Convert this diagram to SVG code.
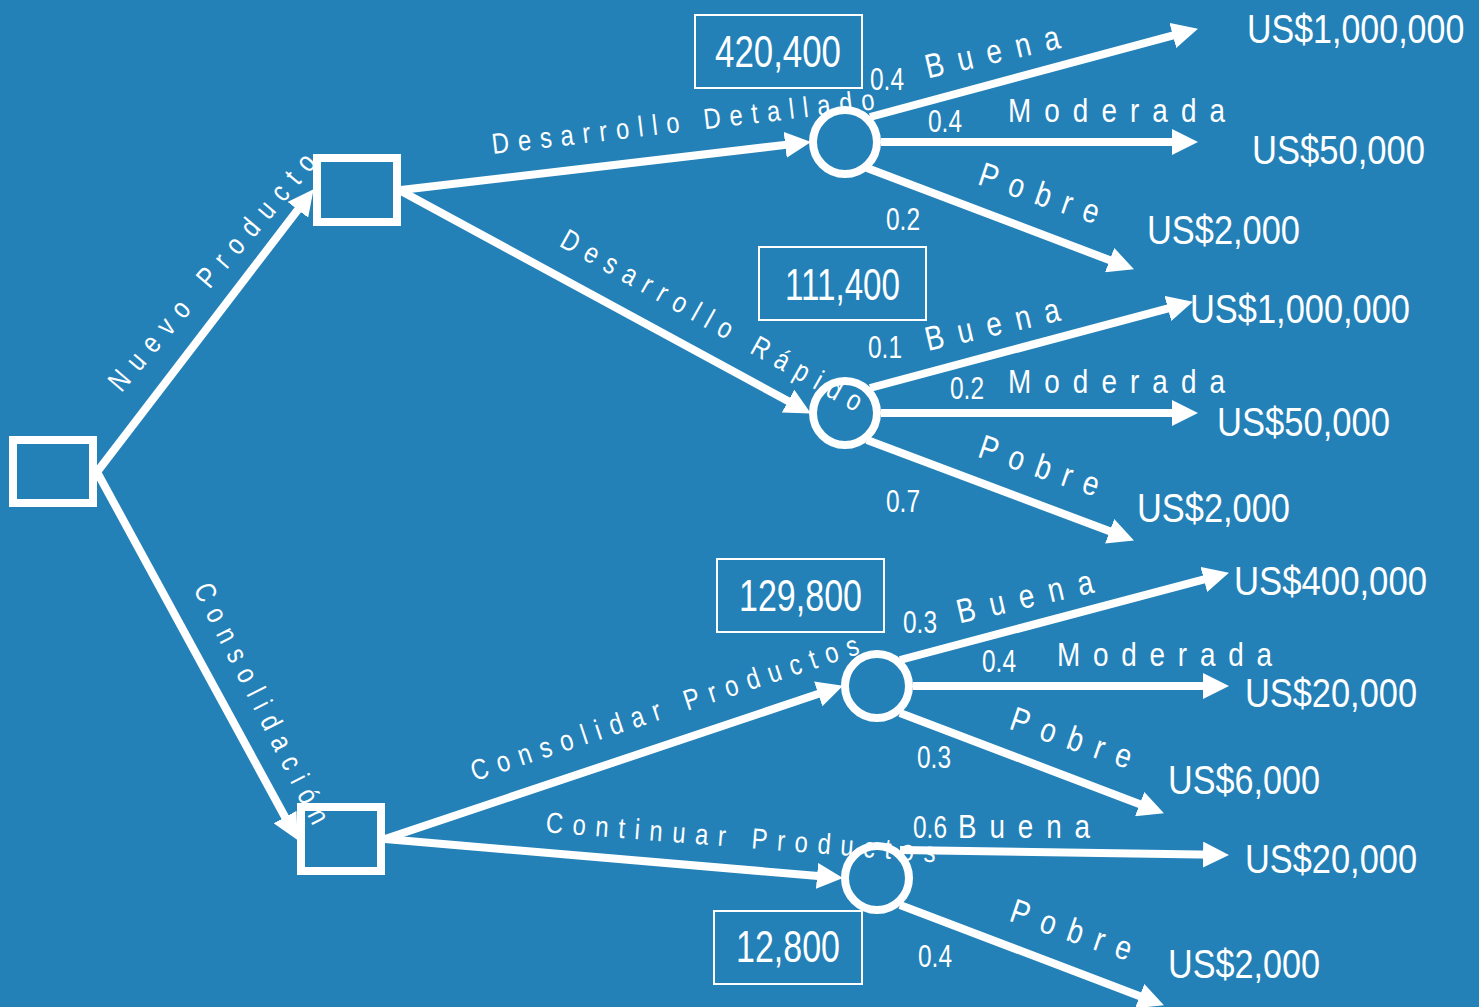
<svg xmlns="http://www.w3.org/2000/svg" width="1479" height="1007" viewBox="0 0 1479 1007">
  <defs>
    <marker id="arrow" markerUnits="userSpaceOnUse" markerWidth="26" markerHeight="26" viewBox="0 0 24 24" refX="12" refY="12" orient="auto">
      <path d="M0,0 L24,12 L0,24 Z" fill="#fff"/>
    </marker>
    <style>
      .edge { stroke: #fff; stroke-width: 8; fill: none; marker-end: url(#arrow); }
      .dec, .chance { fill: #2381B8; stroke: #fff; stroke-width: 8; }
      .ev { fill: none; stroke: #fff; stroke-width: 2; }
      text { fill: #fff; font-family: "Liberation Sans Narrow", "Liberation Sans", Arial, sans-serif; }
      .branch { font-size: 29px; }
      .state { font-size: 34px; }
      .prob { font-size: 31px; }
      .pay { font-size: 40px; }
      .evt { font-size: 44px; text-anchor: middle; }
    </style>
  </defs>

  <rect width="1479" height="1007" fill="#2381B8"/>

  <!-- branches of the tree -->
  <g id="connectors">
    <line class="edge" x1="97" y1="472" x2="305.7" y2="199.5"/>
    <line class="edge" x1="97" y1="472" x2="291.3" y2="828.5"/>
    <line class="edge" x1="401" y1="190" x2="798.1" y2="143.4"/>
    <line class="edge" x1="401" y1="191" x2="799.5" y2="407.3"/>
    <line class="edge" x1="870" y1="117" x2="1185.4" y2="32.1"/>
    <line class="edge" x1="881" y1="142" x2="1185" y2="142"/>
    <line class="edge" x1="867" y1="168" x2="1121.8" y2="264.7"/>
    <line class="edge" x1="870" y1="388" x2="1180.4" y2="305.1"/>
    <line class="edge" x1="881" y1="413" x2="1185" y2="413"/>
    <line class="edge" x1="867" y1="440" x2="1121.8" y2="535.8"/>
    <line class="edge" x1="385" y1="839" x2="830.6" y2="689.8"/>
    <line class="edge" x1="385" y1="839" x2="830" y2="877"/>
    <line class="edge" x1="900" y1="660" x2="1216.4" y2="576.1"/>
    <line class="edge" x1="913" y1="686" x2="1216" y2="686"/>
    <line class="edge" x1="900" y1="713" x2="1151.8" y2="808.7"/>
    <line class="edge" x1="900" y1="850" x2="1216" y2="854.8"/>
    <line class="edge" x1="900" y1="905" x2="1151.8" y2="1000.7"/>
  </g>

  <!-- decision nodes -->
  <g id="decision-root"><rect class="dec" x="13" y="440" width="80" height="63"/></g>
  <g id="decision-nuevo"><rect class="dec" x="317" y="158" width="80" height="64"/></g>
  <g id="decision-consolidacion"><rect class="dec" x="301" y="807" width="80" height="64"/></g>

  <!-- chance nodes -->
  <g id="chance-detallado"><circle class="chance" cx="845" cy="142" r="32"/></g>
  <g id="chance-rapido"><circle class="chance" cx="845" cy="413" r="32"/></g>
  <g id="chance-consolidar"><circle class="chance" cx="877" cy="686" r="32"/></g>
  <g id="chance-continuar"><circle class="chance" cx="877" cy="878" r="32"/></g>

  <!-- expected values -->
  <g id="ev-detallado">
    <rect class="ev" x="695" y="15" width="167" height="73"/>
    <text class="evt" x="778" y="67" textLength="126" lengthAdjust="spacingAndGlyphs">420,400</text>
  </g>
  <g id="ev-rapido">
    <rect class="ev" x="759" y="247" width="167" height="73"/>
    <text class="evt" x="842.5" y="300" textLength="115" lengthAdjust="spacingAndGlyphs">111,400</text>
  </g>
  <g id="ev-consolidar">
    <rect class="ev" x="717" y="559" width="167" height="73"/>
    <text class="evt" x="800.5" y="611" textLength="123" lengthAdjust="spacingAndGlyphs">129,800</text>
  </g>
  <g id="ev-continuar">
    <rect class="ev" x="714" y="911" width="148" height="73"/>
    <text class="evt" x="788" y="962" textLength="104" lengthAdjust="spacingAndGlyphs">12,800</text>
  </g>

  <!-- decision branch labels (spaced, narrow glyphs) -->
  <g id="branch-labels" class="branch">
    <text transform="translate(121.2,393.3) rotate(-49.5)" letter-spacing="12.34" textLength="312.1" lengthAdjust="spacingAndGlyphs">Nuevo Producto</text>
    <text transform="translate(193,589) rotate(63.2)" letter-spacing="11.86" textLength="275.7" lengthAdjust="spacingAndGlyphs">Consolidación</text>
    <text transform="translate(493,154) rotate(-6.7)" letter-spacing="10.88" textLength="393.9" lengthAdjust="spacingAndGlyphs">Desarrollo Detallado</text>
    <text transform="translate(558.2,245.4) rotate(29.3)" letter-spacing="11.49" textLength="350.4" lengthAdjust="spacingAndGlyphs">Desarrollo Rápido</text>
    <text transform="translate(474.4,781.3) rotate(-18.3)" letter-spacing="11.53" textLength="416.5" lengthAdjust="spacingAndGlyphs">Consolidar Productos</text>
    <text transform="translate(545.2,832.2) rotate(4.45)" letter-spacing="11.81" textLength="400.7" lengthAdjust="spacingAndGlyphs">Continuar Productos</text>
  </g>

  <!-- market outcome labels -->
  <g id="state-labels" class="state">
    <text transform="translate(928.1,78.6) rotate(-13)" letter-spacing="17.2" textLength="151.1" lengthAdjust="spacingAndGlyphs">Buena</text>
    <text x="1008" y="122" letter-spacing="15.93" textLength="230.1" lengthAdjust="spacingAndGlyphs">Moderada</text>
    <text transform="translate(976.5,184.1) rotate(18.7)" letter-spacing="15.4" textLength="137.6" lengthAdjust="spacingAndGlyphs">Pobre</text>
    <text transform="translate(928.1,351.1) rotate(-13)" letter-spacing="17.2" textLength="151.1" lengthAdjust="spacingAndGlyphs">Buena</text>
    <text x="1008" y="393" letter-spacing="15.93" textLength="230.1" lengthAdjust="spacingAndGlyphs">Moderada</text>
    <text transform="translate(976.5,456.6) rotate(18.7)" letter-spacing="15.4" textLength="137.6" lengthAdjust="spacingAndGlyphs">Pobre</text>
    <text transform="translate(959.6,623.6) rotate(-13)" letter-spacing="17.8" textLength="153.6" lengthAdjust="spacingAndGlyphs">Buena</text>
    <text x="1057" y="666" letter-spacing="15.59" textLength="227.8" lengthAdjust="spacingAndGlyphs">Moderada</text>
    <text transform="translate(1008,728.6) rotate(18.7)" letter-spacing="15.75" textLength="138.9" lengthAdjust="spacingAndGlyphs">Pobre</text>
    <text x="958" y="838" letter-spacing="15.7" textLength="144.9" lengthAdjust="spacingAndGlyphs">Buena</text>
    <text transform="translate(1008,920.6) rotate(18.7)" letter-spacing="15.75" textLength="138.9" lengthAdjust="spacingAndGlyphs">Pobre</text>
  </g>

  <!-- probabilities -->
  <g id="probabilities" class="prob">
    <text x="870" y="90" textLength="34" lengthAdjust="spacingAndGlyphs">0.4</text>
    <text x="928" y="132" textLength="34" lengthAdjust="spacingAndGlyphs">0.4</text>
    <text x="886" y="230" textLength="34" lengthAdjust="spacingAndGlyphs">0.2</text>
    <text x="868" y="358" textLength="34" lengthAdjust="spacingAndGlyphs">0.1</text>
    <text x="950" y="399" textLength="34" lengthAdjust="spacingAndGlyphs">0.2</text>
    <text x="886" y="512" textLength="34" lengthAdjust="spacingAndGlyphs">0.7</text>
    <text x="903" y="633" textLength="34" lengthAdjust="spacingAndGlyphs">0.3</text>
    <text x="982" y="672" textLength="34" lengthAdjust="spacingAndGlyphs">0.4</text>
    <text x="917" y="768" textLength="34" lengthAdjust="spacingAndGlyphs">0.3</text>
    <text x="913" y="838" textLength="34" lengthAdjust="spacingAndGlyphs">0.6</text>
    <text x="918" y="967" textLength="34" lengthAdjust="spacingAndGlyphs">0.4</text>
  </g>

  <!-- payoffs -->
  <g id="payoffs" class="pay">
    <text transform="translate(1247,43) scale(0.85,1)">US$1,000,000</text>
    <text x="1252" y="164" textLength="173" lengthAdjust="spacingAndGlyphs">US$50,000</text>
    <text x="1147" y="244" textLength="153" lengthAdjust="spacingAndGlyphs">US$2,000</text>
    <text x="1190" y="323" textLength="220" lengthAdjust="spacingAndGlyphs">US$1,000,000</text>
    <text x="1217" y="436" textLength="173" lengthAdjust="spacingAndGlyphs">US$50,000</text>
    <text x="1137" y="522" textLength="153" lengthAdjust="spacingAndGlyphs">US$2,000</text>
    <text x="1234" y="595" textLength="193" lengthAdjust="spacingAndGlyphs">US$400,000</text>
    <text x="1245" y="707" textLength="172" lengthAdjust="spacingAndGlyphs">US$20,000</text>
    <text x="1168" y="794" textLength="152" lengthAdjust="spacingAndGlyphs">US$6,000</text>
    <text x="1245" y="873" textLength="172" lengthAdjust="spacingAndGlyphs">US$20,000</text>
    <text x="1168" y="978" textLength="152" lengthAdjust="spacingAndGlyphs">US$2,000</text>
  </g>
</svg>
